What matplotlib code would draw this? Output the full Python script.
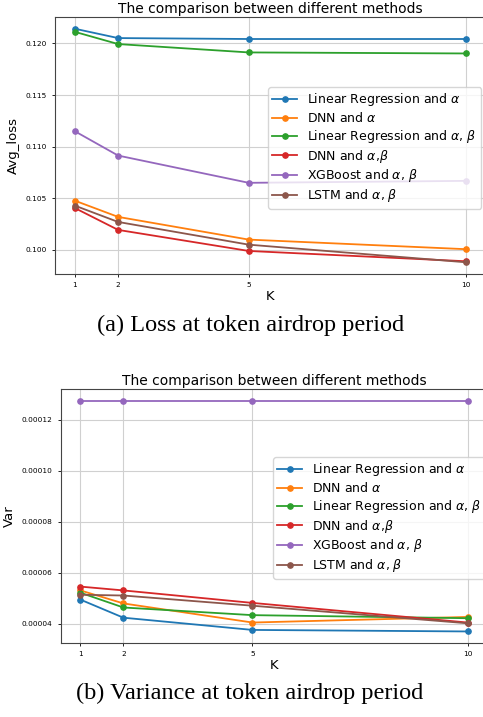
import matplotlib
matplotlib.use("Agg")
import matplotlib.pyplot as plt

# K values on the x axis
k = [1, 2, 5, 10]

labels = [
    r"Linear Regression and $\alpha$",
    r"DNN and $\alpha$",
    r"Linear Regression and $\alpha$, $\beta$",
    r"DNN and $\alpha$,$\beta$",
    r"XGBoost and $\alpha$, $\beta$",
    r"LSTM and $\alpha$, $\beta$",
]

# (a) average loss
loss_lr_a = [0.12143, 0.12052, 0.12043, 0.12043]
loss_dnn_a = [0.10478, 0.10320, 0.10100, 0.10007]
loss_lr_ab = [0.12113, 0.11994, 0.11913, 0.11903]
loss_dnn_ab = [0.10407, 0.10194, 0.09990, 0.09890]
loss_xgb_ab = [0.11151, 0.10914, 0.10650, 0.10669]
loss_lstm_ab = [0.10430, 0.10271, 0.10051, 0.09880]

# (b) variance
var_lr_a = [0.0000495, 0.0000424, 0.0000376, 0.0000370]
var_dnn_a = [0.0000531, 0.0000480, 0.0000405, 0.0000427]
var_lr_ab = [0.0000522, 0.0000464, 0.0000434, 0.0000422]
var_dnn_ab = [0.0000546, 0.0000531, 0.0000482, 0.0000405]
var_xgb_ab = [0.0001276, 0.0001276, 0.0001276, 0.0001276]
var_lstm_ab = [0.0000514, 0.0000511, 0.0000471, 0.0000402]

W, H = 483, 717
fig = plt.figure(figsize=(W / 100, H / 100), dpi=100)


def px_axes(left, top, right, bottom):
    return fig.add_axes([left / W, 1 - bottom / H, (right - left) / W, (bottom - top) / H])


def draw(ax, series, ylabel, leg_left, leg_top):
    for s, lab in zip(series, labels):
        ax.plot(k, s, marker="o", lw=1.3, ms=3.8, label=lab)
    ax.set_xticks(k)
    ax.grid(True, color="#d0d0d0", lw=0.8)
    ax.tick_params(labelsize=5.3, length=2.5, width=0.6)
    ax.set_title("The comparison between different methods", fontsize=10, pad=3)
    ax.set_xlabel("K", fontsize=9.5, labelpad=1)
    ax.set_ylabel(ylabel, fontsize=9.5)
    for sp in ax.spines.values():
        sp.set_color("#444444")
    ax.legend(loc="upper left", bbox_to_anchor=(leg_left / W, 1 - leg_top / H),
              bbox_transform=fig.transFigure, borderaxespad=0, fontsize=9,
              labelspacing=0.22, borderpad=0.35)


ax1 = px_axes(55, 17, 486, 274)
draw(ax1, [loss_lr_a, loss_dnn_a, loss_lr_ab, loss_dnn_ab, loss_xgb_ab, loss_lstm_ab],
     "Avg_loss", 268, 87)
ax1.set_yticks([0.100, 0.105, 0.110, 0.115, 0.120])

ax2 = px_axes(61, 389, 487, 643)
draw(ax2, [var_lr_a, var_dnn_a, var_lr_ab, var_dnn_ab, var_xgb_ab, var_lstm_ab],
     "Var", 273, 457)
ax2.set_yticks([0.00004, 0.00006, 0.00008, 0.00010, 0.00012])
ax2.set_yticklabels(["0.00004", "0.00006", "0.00008", "0.00010", "0.00012"])

fig.text(251 / W, 1 - 325 / H, "(a) Loss at token airdrop period",
         family="Liberation Serif", fontsize=17.5, ha="center", va="center")
fig.text(250 / W, 1 - 693 / H, "(b) Variance at token airdrop period",
         family="Liberation Serif", fontsize=17.5, ha="center", va="center")

fig.savefig("out.png", dpi=100)
